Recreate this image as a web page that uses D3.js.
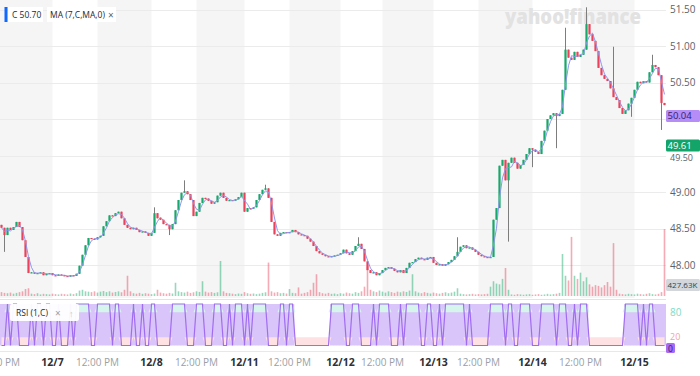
<!DOCTYPE html>
<meta charset="utf-8">
<script src="https://cdn.jsdelivr.net/npm/d3@7"></script>
<head>
	<title>C - candles, MA (7) and RSI (1)</title>
	<style>
		body { margin: 0; background: #fff; }
		svg { display: block; font-family: "Open Sans", "Liberation Sans", sans-serif; }
		.ptick { font-size: 10px; fill: #5b636a; }
		.xdate { font-size: 10.5px; font-weight: 700; fill: #2c3136; }
		.xtime { font-size: 10px; fill: #9aa0a6; }
		.legend { font-size: 8.5px; fill: #232a31; }
	</style>
</head>

<body>
	<div id="chart"></div>

	<script>
		// closes, one bar every ~3px (open = previous close)
		var firstOpen = 48.55;
		var closes = [
			48.51, 48.41, 48.51, 48.48, 48.52, 48.59, 48.52, 48.34, 48.11, 47.89,
			47.90, 47.88, 47.89, 47.90, 47.86, 47.88, 47.89, 47.86, 47.85, 47.87,
			47.86, 47.85, 47.84, 47.86, 47.85, 47.88, 47.99, 48.14, 48.27, 48.37,
			48.36, 48.35, 48.38, 48.40, 48.53, 48.60, 48.68, 48.67, 48.71, 48.73,
			48.64, 48.55, 48.51, 48.49, 48.51, 48.48, 48.45, 48.46, 48.44, 48.40,
			48.44, 48.71, 48.64, 48.62, 48.56, 48.55, 48.49, 48.56, 48.75, 48.89,
			48.99, 49.01, 48.97, 48.89, 48.67, 48.73, 48.85, 48.92, 48.91, 48.88,
			48.84, 48.86, 48.95, 48.99, 48.92, 48.88, 48.89, 48.88, 48.90, 48.93,
			48.99, 48.73, 48.78, 48.77, 48.79, 48.89, 48.97, 49.03, 49.05, 48.92,
			48.59, 48.42, 48.40, 48.44, 48.45, 48.44, 48.45, 48.48, 48.45, 48.42,
			48.41, 48.40, 48.36, 48.32, 48.26, 48.19, 48.16, 48.14, 48.12, 48.11,
			48.12, 48.13, 48.14, 48.16, 48.21, 48.16, 48.14, 48.19, 48.26, 48.29,
			48.22, 48.05, 47.93, 47.89, 47.90, 47.86, 47.89, 47.93, 47.96, 47.97,
			47.95, 47.92, 47.90, 47.93, 47.89, 47.96, 48.03, 48.04, 48.08, 48.10,
			48.08, 48.07, 48.10, 48.11, 48.03, 48.00, 48.01, 47.99, 48.01, 48.04,
			48.07, 48.12, 48.18, 48.25, 48.27, 48.23, 48.24, 48.21, 48.18, 48.14,
			48.12, 48.11, 48.10, 48.11, 48.62, 48.78, 49.36, 49.44, 49.16, 49.40,
			49.47, 49.40, 49.32, 49.37, 49.44, 49.52, 49.60, 49.58, 49.55, 49.52,
			49.70, 49.84, 50.00, 50.05, 50.08, 50.04, 50.07, 50.40, 50.95, 50.84,
			50.81, 50.92, 50.85, 50.88, 50.95, 51.30, 51.16, 51.07, 50.93, 50.70,
			50.60, 50.55, 50.52, 50.42, 50.30, 50.26, 50.15, 50.07, 50.12, 50.21,
			50.29, 50.40, 50.51, 50.49, 50.52, 50.50, 50.64, 50.74, 50.71, 50.60,
			50.22, 50.19
		];

		// volume per bar, in thousands
		var volumes = [
			25, 20, 18, 22, 15, 20, 25, 30, 45, 50,
			15, 12, 18, 10, 14, 12, 10, 15, 12, 10,
			14, 12, 10, 16, 12, 18, 35, 40, 30, 28,
			25, 30, 22, 28, 32, 25, 30, 22, 26, 30,
			24, 40, 130, 30, 18, 15, 20, 14, 18, 15,
			12, 16, 40, 22, 18, 15, 20, 16, 85, 30,
			25, 22, 28, 20, 24, 30, 26, 95, 28, 22,
			25, 20, 24, 225, 30, 20, 18, 15, 12, 16,
			14, 25, 18, 14, 16, 12, 15, 20, 24, 215,
			30, 22, 25, 18, 20, 16, 45, 20, 18, 55,
			15, 20, 25, 40, 85, 140, 25, 18, 15, 20,
			14, 16, 12, 18, 15, 22, 18, 15, 25, 20,
			30, 60, 190, 40, 30, 25, 35, 28, 22, 30,
			25, 20, 28, 24, 30, 26, 35, 140, 30, 22,
			18, 25, 20, 16, 22, 18, 15, 20, 24, 18,
			22, 28, 50, 15, 12, 10, 12, 14, 10, 12,
			10, 12, 14, 60, 95, 80, 75, 110, 180, 40,
			10, 8, 12, 10, 8, 10, 12, 8, 10, 12,
			8, 10, 14, 10, 12, 15, 20, 270, 130, 100,
			380, 130, 110, 150, 95, 120, 75, 60, 70, 65,
			55, 70, 90, 60, 340, 40, 15, 12, 10, 14,
			12, 10, 15, 12, 10, 14, 18, 12, 10, 14,
			25, 430
		];

		// long wicks that stick out of the bodies
		var spikeIdx = [1, 51, 56, 61, 88, 119, 152, 169, 177, 185, 188, 195, 204, 210, 217, 220];
		var spikeVal = [48.18, 48.79, 48.41, 49.16, 49.10, 48.38, 48.38, 48.32, 49.34, 49.60, 51.25, 51.53, 50.99, 50.03, 50.88, 49.85];

		var priceTicks = [48, 48.5, 49, 49.5, 50, 50.5, 51, 51.5];
		var tickIdx = [-1, 17, 32, 50, 65, 81, 96, 113, 127, 144, 159, 177, 193, 211];
		var tickLabels = ["12:00 PM", "12/7", "12:00 PM", "12/8", "12:00 PM", "12/11", "12:00 PM",
			"12/12", "12:00 PM", "12/13", "12:00 PM", "12/14", "12:00 PM", "12/15"];

		// tags on the right price axis
		var lastMA = 50.04, lastClose = 49.61, volTag = "427.63K";

		var width = 700, height = 376,
			plotW = 666,
			mainBottom = 298;

		var upColor = "#17a86b", downColor = "#e9425a";

		// one of my bars covers ~3 of the original 5-min bars, so MA(7) spans ~3 of them here
		var maWindow = 3;

		var svg = d3.select("#chart")
			.append("svg")
			.attr("width", width)
			.attr("height", height);

		var N = closes.length;
		var x = d3.scaleLinear().domain([-0.5, N - 0.5]).range([0, plotW]);
		var y = d3.scaleLinear().domain([48, 51.5]).range([265, 9.5]);
		var yVol = d3.scaleLinear().domain([0, 450]).range([296, 226]);
		var yRsi = d3.scaleLinear().domain([0, 100]).range([345.5, 304]);

		// build candles
		var bars = closes.map(function(c, i) {
			var o = i === 0 ? firstOpen : closes[i - 1];
			var hi = Math.max(o, c), lo = Math.min(o, c);
			var k = spikeIdx.indexOf(i);
			if (k >= 0) {
				if (spikeVal[k] > hi) hi = spikeVal[k];
				if (spikeVal[k] < lo) lo = spikeVal[k];
			}
			return {i: i, o: o, c: c, h: hi, l: lo, v: volumes[i], up: c >= o};
		});

		var ma = closes.map(function(c, i) {
			return d3.mean(closes.slice(Math.max(0, i - maWindow + 1), i + 1));
		});

		// RSI(1): 100 on an up bar, 0 on a down bar, unchanged on a flat one
		var rsi = [];
		bars.forEach(function(b, i) {
			if (b.c > b.o) rsi.push(100);
			else if (b.c < b.o) rsi.push(0);
			else rsi.push(i ? rsi[i - 1] : 50);
		});

		// length of the run of equal RSI values each bar sits in
		var runLen = rsi.map(function() { return 1; });
		var start = 0;
		for (var i = 1; i <= N; i++) {
			if (i === N || rsi[i] !== rsi[start]) {
				for (var j = start; j < i; j++) runLen[j] = i - start;
				start = i;
			}
		}

		svg.append("clipPath").attr("id", "mainClip")
			.append("rect").attr("x", 0).attr("y", 0).attr("width", plotW).attr("height", mainBottom);
		svg.append("clipPath").attr("id", "rsiClip")
			.append("rect").attr("x", 0).attr("y", 301).attr("width", plotW).attr("height", 50);

		// shaded afternoon bands
		var bands = [];
		for (var k = 0; k < tickIdx.length - 1; k++) {
			if (tickLabels[k] === "12:00 PM") bands.push([tickIdx[k], tickIdx[k + 1]]);
		}
		svg.append("g").selectAll("rect")
			.data(bands)
			.enter().append("rect")
			.attr("x", function(d) { return Math.max(0, x(d[0])); })
			.attr("width", function(d) { return x(d[1]) - Math.max(0, x(d[0])); })
			.attr("y", 0)
			.attr("height", mainBottom)
			.attr("fill", "#f5f5f5");

		// horizontal grid
		svg.append("g").selectAll("line")
			.data(priceTicks)
			.enter().append("line")
			.attr("x1", 0).attr("x2", plotW)
			.attr("y1", function(d) { return Math.round(y(d)) + 0.5; })
			.attr("y2", function(d) { return Math.round(y(d)) + 0.5; })
			.attr("stroke", "#ebebeb");

		// watermark
		svg.append("text")
			.attr("x", 505).attr("y", 24)
			.attr("textLength", 136)
			.attr("lengthAdjust", "spacingAndGlyphs")
			.style("font-size", "21px")
			.style("font-weight", 800)
			.attr("fill", "#e2e2e2")
			.text("yahoo!finance");

		var main = svg.append("g").attr("clip-path", "url(#mainClip)");

		// volume
		main.append("g").selectAll("rect")
			.data(bars)
			.enter().append("rect")
			.attr("x", function(d) { return x(d.i) - 0.8; })
			.attr("width", 1.6)
			.attr("y", function(d) { return yVol(d.v); })
			.attr("height", function(d) { return yVol(0) - yVol(d.v); })
			.attr("fill", function(d) { return d.up ? upColor : downColor; })
			.attr("opacity", 0.45);

		// wicks
		main.append("g").selectAll("line")
			.data(bars)
			.enter().append("line")
			.attr("x1", function(d) { return x(d.i); })
			.attr("x2", function(d) { return x(d.i); })
			.attr("y1", function(d) { return y(d.h); })
			.attr("y2", function(d) { return y(d.l); })
			.attr("stroke", "#7d7d7d")
			.attr("stroke-width", 1);

		// bodies
		main.append("g").selectAll("rect")
			.data(bars)
			.enter().append("rect")
			.attr("x", function(d) { return x(d.i) - 1.1; })
			.attr("width", 2.2)
			.attr("y", function(d) { return y(Math.max(d.o, d.c)); })
			.attr("height", function(d) { return Math.max(1.2, Math.abs(y(d.o) - y(d.c))); })
			.attr("fill", function(d) { return d.up ? upColor : downColor; });

		// MA line
		main.append("path")
			.datum(ma)
			.attr("fill", "none")
			.attr("stroke", "#8f96ee")
			.attr("stroke-width", 1)
			.attr("d", d3.line().x(function(d, i) { return x(i); }).y(function(d) { return y(d); }));

		// right price labels (the ones under a tag are hidden, as on the original)
		svg.append("g").selectAll("text")
			.data(priceTicks.filter(function(t) {
				return Math.abs(t - lastMA) > 0.08 && Math.abs(t - lastClose) > 0.08;
			}))
			.enter().append("text")
			.attr("class", "ptick")
			.attr("x", 670)
			.attr("y", function(d) { return y(d) + (Math.abs(d - lastClose) < 0.2 ? 5 : 3.5); })
			.style("font-size", function(d) { return Math.abs(d - lastClose) < 0.2 ? "9px" : null; })
			.text(d3.format(".2f"));

		function tag(val, ypos, fill, color, fs) {
			svg.append("rect").attr("x", 666).attr("y", ypos - 6).attr("width", 34).attr("height", 12)
				.attr("rx", 1.5).attr("fill", fill);
			svg.append("text").attr("x", 667.5).attr("y", ypos + 3.3)
				.style("font-size", fs + "px").attr("fill", color).text(val);
		}
		tag(d3.format(".2f")(lastMA), y(lastMA), "#b68cf6", "#2d2470", 9.5);
		tag(d3.format(".2f")(lastClose), y(lastClose) - 2, "#13a46a", "#ffffff", 9.5);
		tag(volTag, 285, "#d3d6da", "#3a3f44", 8);

		// panel separators
		svg.append("line").attr("x1", 0).attr("x2", plotW).attr("y1", 299.5).attr("y2", 299.5).attr("stroke", "#e3e3e3");
		svg.append("line").attr("x1", 0).attr("x2", plotW).attr("y1", 351.5).attr("y2", 351.5).attr("stroke", "#e8e8e8");

		// RSI panel
		var rsiG = svg.append("g").attr("clip-path", "url(#rsiClip)");

		// lavender wherever the line keeps flipping, white on long runs
		rsiG.append("g").selectAll("rect")
			.data(rsi.map(function(v, i) { return i; }).filter(function(i) { return runLen[i] < 8; }))
			.enter().append("rect")
			.attr("x", function(i) { return x(i - 0.5); })
			.attr("width", x(1) - x(0) + 0.3)
			.attr("y", yRsi(100))
			.attr("height", yRsi(0) - yRsi(100))
			.attr("fill", "#d9c5fa");

		rsiG.append("path")
			.datum(rsi)
			.attr("fill", "#d6f5ec")
			.attr("d", d3.area().x(function(d, i) { return x(i); })
				.y0(yRsi(80)).y1(function(d) { return yRsi(Math.max(d, 80)); }));
		rsiG.append("path")
			.datum(rsi)
			.attr("fill", "#fde1e3")
			.attr("d", d3.area().x(function(d, i) { return x(i); })
				.y0(yRsi(20)).y1(function(d) { return yRsi(Math.min(d, 20)); }));

		rsiG.append("path")
			.datum(rsi)
			.attr("fill", "none")
			.attr("stroke", "#a06cf0")
			.attr("stroke-width", 1.2)
			.attr("d", d3.line().x(function(d, i) { return x(i); }).y(function(d) { return yRsi(d); }));

		svg.append("text").attr("x", 670).attr("y", yRsi(80) + 3.5)
			.style("font-size", "10px").attr("fill", "#7edcc4").text("80");
		svg.append("text").attr("x", 670).attr("y", 339.5)
			.style("font-size", "9px").attr("fill", "#f3a3a8").text("20");
		svg.append("rect").attr("x", 666).attr("y", 343).attr("width", 9).attr("height", 10)
			.attr("rx", 1.5).attr("fill", "#a86af4");
		svg.append("text").attr("x", 668).attr("y", 351.5)
			.style("font-size", "8.5px").attr("fill", "#2d2470").text("0");

		// RSI legend
		svg.append("rect").attr("x", 10).attr("y", 304).attr("width", 69).attr("height", 17)
			.attr("rx", 2).attr("fill", "#fff").attr("opacity", 0.95);
		svg.append("text").attr("class", "legend").attr("x", 16).attr("y", 316).text("RSI (1,C)");
		svg.append("text").attr("x", 55).attr("y", 316.5).style("font-size", "10px").attr("fill", "#9aa0a6").text("×");
		svg.append("text").attr("x", 69).attr("y", 316.5).style("font-size", "9px").attr("fill", "#c9cdd1").text("↑");

		// top legend
		svg.append("rect").attr("x", 4.5).attr("y", 7).attr("width", 3).attr("height", 15).attr("fill", "#0f69ff");
		svg.append("rect").attr("x", 8).attr("y", 7).attr("width", 35).attr("height", 15).attr("fill", "#fff");
		svg.append("text").attr("class", "legend").attr("x", 12).attr("y", 18).text("C 50.70");
		svg.append("rect").attr("x", 47).attr("y", 7).attr("width", 69).attr("height", 15).attr("fill", "#fff");
		svg.append("text").attr("class", "legend").attr("x", 50).attr("y", 18).text("MA (7,C,MA,0)");
		svg.append("text").attr("x", 108).attr("y", 18.5).style("font-size", "10px").attr("fill", "#5b636a").text("×");

		// x axis labels
		svg.append("g").selectAll("text")
			.data(tickIdx)
			.enter().append("text")
			.attr("class", function(d, k) { return tickLabels[k] === "12:00 PM" ? "xtime" : "xdate"; })
			.attr("x", function(d) { return x(d); })
			.attr("y", 366)
			.attr("text-anchor", "middle")
			.text(function(d, k) { return tickLabels[k]; });
	</script>
</body>
